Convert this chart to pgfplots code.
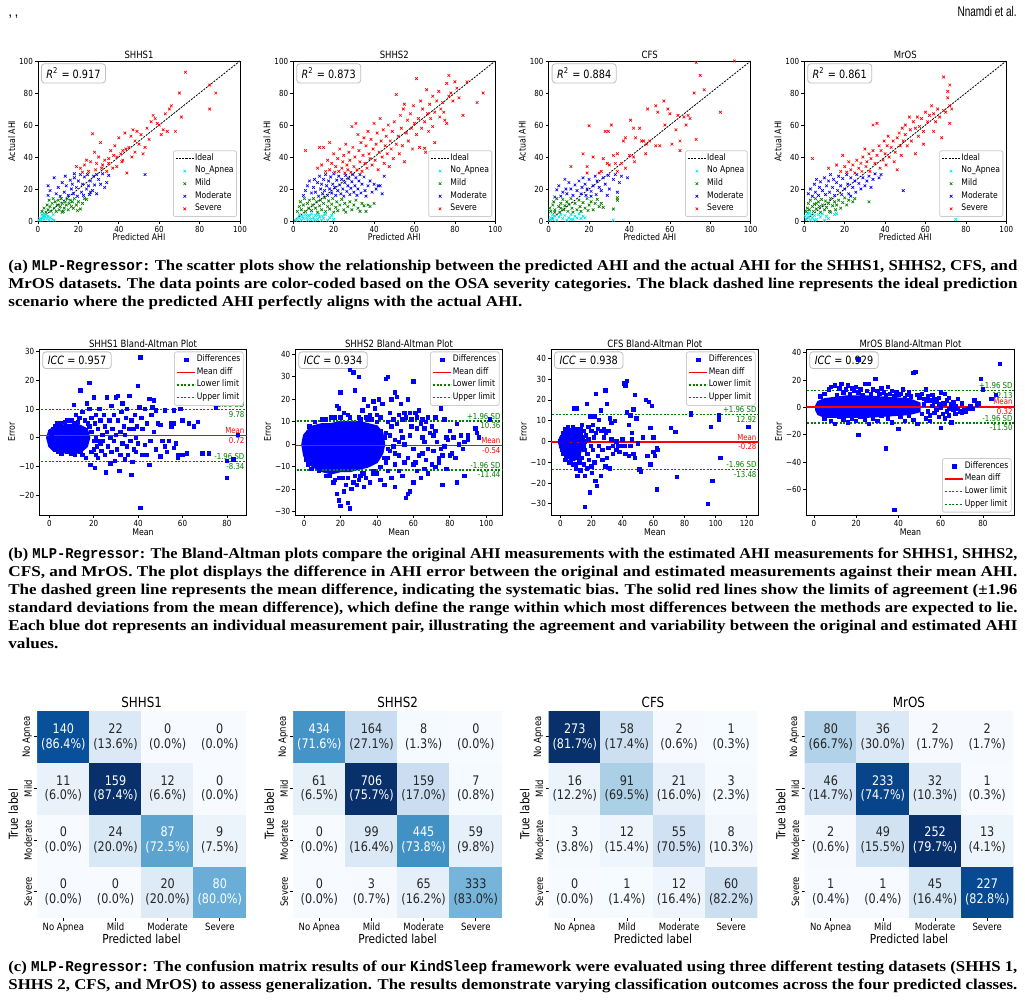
\documentclass[border=0pt]{standalone}
\usepackage{fontspec}
\usepackage{graphicx}
\usepackage{pgfplots}
\pgfplotsset{compat=1.18}
\setsansfont[FakeStretch=0.85]{DejaVu Sans}
\newfontfamily\capfont{Liberation Serif}
\newfontfamily\capmono[FakeStretch=0.85]{Liberation Mono}
\newfontfamily\hdrfont{Liberation Sans}
\definecolor{mcyan}{RGB}{0,235,235}
\definecolor{mgreen}{RGB}{0,128,0}
\definecolor{mblue}{RGB}{0,0,255}
\definecolor{mred}{RGB}{255,0,0}
\definecolor{dtext}{RGB}{38,38,38}
\pgfplotsset{
 colormap={blues}{rgb255=(247,251,255) rgb255=(222,235,247) rgb255=(198,219,239) rgb255=(158,202,225) rgb255=(107,174,214) rgb255=(66,146,198) rgb255=(33,113,181) rgb255=(8,81,156) rgb255=(8,48,107)},
 legend image code/.code={\draw[mark repeat=2,mark phase=2,#1] plot coordinates {(0pt,0pt)(4.5pt,0pt)(9pt,0pt)};},
 base/.style={scale only axis, enlargelimits=false, tick align=outside, tick pos=left, major tick length=1.6pt,
   axis line style={line width=0.45pt}, tick style={black, line width=0.35pt},
   /pgf/number format/assume math mode=true,
   ticklabel style={font=\sffamily\fontsize{4.2}{5}\selectfont, inner sep=0.8pt},
   label style={font=\sffamily\fontsize{4.6}{5.5}\selectfont, inner sep=1pt},
   every axis title/.style={at={(0.5,1)}, anchor=south, yshift=0pt, font=\sffamily\fontsize{5}{6}\selectfont, inner sep=1pt},
   legend cell align=left,
   legend style={font=\sffamily\fontsize{4.5}{5}\selectfont, draw=black!20, fill=white, rounded corners=1pt, inner sep=1pt, row sep=0.5pt, nodes={inner sep=0.45pt}}},
 sc/.style={base, width=101pt, height=80pt, xmin=0, xmax=100, ymin=0, ymax=100,
   xtick={0,20,40,60,80,100}, ytick={0,20,40,60,80,100}, xlabel={Predicted AHI}, ylabel={Actual AHI},
   xlabel style={yshift=1.5pt},
   legend style={at={(0.985,0.025)}, anchor=south east}},
 ba/.style={base, width=103.7pt, height=83pt, xlabel={Mean}, ylabel={Error}, xlabel style={yshift=1pt},
   title style={yshift=-0.7pt},
   legend style={at={(0.985,0.985)}, anchor=north east}},
 sx/.style={only marks, mark=x, mark size=0.95pt, line width=0.33pt},
 bx/.style={only marks, mark=square*, color=mblue, mark size=0.85pt},
 core/.style={fill=mblue, draw=mblue, line width=1pt, forget plot},
 mline/.style={color=mred, draw=mred, line width=0.75pt},
 gdash/.style={color=mgreen, draw=mgreen, line width=0.6pt, dash pattern=on 1pt off 0.8pt},
 cm/.style={scale only axis, width=104.3pt, height=103.35pt, enlargelimits=false,
   xmin=-0.5, xmax=3.5, ymin=-0.5, ymax=3.5, axis line style={draw=none},
   tick align=outside, tick pos=left, major tick length=1.5pt, tick style={black, line width=0.35pt},
   xtick={0,1,2,3}, ytick={0,1,2,3},
   xticklabels={No Apnea,Mild,Moderate,Severe}, yticklabels={Severe,Moderate,Mild,No Apnea},
   ticklabel style={font=\sffamily\fontsize{5}{6}\selectfont, inner sep=1pt},
   yticklabel style={rotate=90, anchor=south},
   xlabel={Predicted label}, ylabel={True label},
   xlabel style={yshift=1.5pt},
   label style={font=\sffamily\fontsize{6.2}{7}\selectfont, inner sep=1pt},
   every axis title/.style={at={(0.5,1)}, anchor=south, yshift=0.1pt, font=\sffamily\fontsize{7}{8}\selectfont, inner sep=1.2pt},
   colormap name=blues},
 cmt/.style={only marks, mark=none, point meta=explicit symbolic, nodes near coords, nodes near coords align={center},
   every node near coord/.append style={#1, align=center, font=\sffamily\fontsize{6.6}{7.4}\selectfont, inner sep=0pt}},
 cmap/.style={matrix plot*, mesh/cols=4, mesh/rows=4, point meta=explicit}
}
\tikzset{
 rbox/.style={draw=black!25, rounded corners=1.5pt, fill=white, anchor=north west, inner xsep=2.5pt, inner ysep=2pt, font=\sffamily\fontsize{5.7}{6.5}\selectfont},
 ann/.style={inner xsep=0.4pt, inner ysep=0.7pt, font=\sffamily\fontsize{4.1}{4.7}\selectfont}
}
\newcommand\mono[1]{{\capmono\bfseries #1}}
\newcommand\capl[3]{\node[anchor=base west, inner sep=0pt] at (4pt,-#1pt) {\resizebox{#2pt}{\height}{\capfont\bfseries\fontsize{7.5}{9}\selectfont #3}};}
\newcommand\idealimg{\addlegendimage{black, line width=0.4pt, dash pattern=on 1pt off 0.6pt}\addlegendentry{Ideal}}
\newcommand\idealline{\addplot[black, line width=0.4pt, dash pattern=on 1pt off 0.6pt, forget plot] coordinates {(0,0)(100,100)};}
\newcommand\balegend{\addlegendimage{only marks, mark=square*, color=mblue, mark size=0.85pt}\addlegendentry{Differences}
 \addlegendimage{color=mred, line width=0.75pt}\addlegendentry{Mean diff}
 \addlegendimage{color=mgreen, line width=0.6pt, dash pattern=on 1pt off 0.8pt}\addlegendentry{Lower limit}
 \addlegendimage{color=mgreen, line width=0.6pt, dash pattern=on 1pt off 0.8pt}\addlegendentry{Upper limit}}
\begin{document}
\begin{tikzpicture}
\useasboundingbox (0,0) rectangle (512.5pt,-502pt);
\fill[white] (0,0) rectangle (512.5pt,-502pt);
\node[anchor=base west, inner sep=0pt] at (4pt,-8.5pt) {\hdrfont\fontsize{7}{8}\selectfont ,\,,};
\node[anchor=base east, inner sep=0pt] at (508.5pt,-8.5pt) {\resizebox{29.5pt}{\height}{\hdrfont\fontsize{7}{8}\selectfont Nnamdi et al.}};

% ===================== SCATTER 1
\begin{axis}[sc, at={(19pt,-30.5pt)}, anchor=north west, title={SHHS1}]
\idealimg
\addplot[sx, mcyan] coordinates {(0.5,0.5) (1,1.5) (1.5,0.5) (2,2) (2.5,3) (3,1) (3.5,2.5) (4,4) (4.5,1.5) (5,3) (5.5,0.5) (6,2) (7,1) (7.5,4) (3,4.5) (8,0.5) (2,4)};
\addlegendentry{No\_Apnea}
\addplot[sx, mgreen] coordinates {(2,6) (3,8) (4,5.5) (4.5,10) (5,7) (5.5,13) (6,9) (6.5,6) (7,11) (7.5,14) (8,8) (8.5,12) (9,6) (9.5,10) (10,13) (10.5,7) (11,9) (11.5,14) (12,11) (12.5,6) (13,8) (13.5,12) (14,10) (14.5,14) (15,7) (15.5,11) (16,13) (16.5,9) (17,12) (17.5,8) (18,14) (19,10) (20,12) (21,7.5) (22,11) (23,14) (24,13.5) (19.5,6.5) (12,5.5)};
\addlegendentry{Mild}
\addplot[sx, mblue] coordinates {(5,16) (5,22) (6,19) (8,27) (9,17) (10,21) (11,15.5) (12,24) (13,18) (13.5,28) (14,22) (15,16) (16,25.5) (16.5,20) (17,23) (17.5,17) (18,27) (19,21) (19.5,15.5) (20,25) (21,29) (21.5,18) (22,23) (22.5,16) (23,27.5) (24,20) (24.5,29) (25,22) (25.5,16.5) (26,25) (27,19) (27.5,28) (28,22.5) (29,17) (30,26) (31,23) (32,29.5) (33,21) (34,24) (35,28.5) (53,29) (18,29.5) (26,18) (29,29)};
\addlegendentry{Moderate}
\addplot[sx, mred] coordinates {(19,34) (21,33) (23,35) (24,38) (25,31) (26,37) (27,54.5) (28,43) (28.5,32) (29,36) (30,40) (31,49) (31.5,33) (32,35) (33,38) (34,31) (35,36) (36,44) (37,33) (37.5,41) (38,47) (39,34) (40,52) (41,42) (41.5,37) (42,38) (43,55) (43.5,45) (44,30) (45,46) (46,53) (46.5,40) (47,57) (48,43) (49,56) (50,48) (51,54) (52,42) (53,46) (54,58) (55,51) (56,62) (57,66) (58,64) (59,61) (60,60) (61,54) (62,57) (63,67) (64,56) (65,70) (66,72) (68,56) (70,80) (71,65) (73,93) (85,85) (85,70) (88,80) (35,39) (39,40) (42,44) (48,50) (22,30.5)};
\addlegendentry{Severe}
\idealline
\node[rbox] at (rel axis cs:0.015,0.985) {\textit{R}\textsuperscript{2} = 0.917};
\end{axis}

% ===================== SCATTER 2
\begin{axis}[sc, at={(146.65pt,-30.5pt)}, anchor=north west, title={SHHS2}]
\idealimg
\addplot[sx, mcyan] coordinates {(1,0.5) (2,1) (3,2) (4,0.5) (4.5,3) (5,1.5) (6,4) (6.5,2) (7,0.5) (8,3) (8.5,1) (9,4.5) (10,2) (10.5,0.5) (11,3.5) (12,1) (12.5,4) (13,2.5) (14,0.5) (14.5,3) (15,1.5) (16,4) (17,0.5) (18,2) (19,3.5) (20,1) (3,4) (7.5,3.5) (15.5,4.5)};
\addlegendentry{No\_Apnea}
\addplot[sx, mgreen] coordinates {(2,6) (3,9) (3.5,12) (4,7) (5,10) (5.5,14) (6,6) (7,11) (7.5,8) (8,13) (9,6.5) (9.5,10) (10,14) (11,8) (11.5,12) (12,5.5) (13,9.5) (13.5,13) (14,7) (15,11) (15.5,14.5) (16,6) (17,9) (17.5,12.5) (18,7.5) (19,10.5) (19.5,14) (20,5.5) (21,8.5) (21.5,12) (22,6.5) (23,10) (24,13.5) (25,7) (25.5,11) (26,5.5) (27,9) (28,12) (29,7) (30,10) (31,13) (32,8) (33,6) (34,11) (35,9.5) (36,6) (37,10) (40,11) (38,9)};
\addlegendentry{Mild}
\addplot[sx, mblue] coordinates {(5,16) (6,19) (7,22) (8,25) (9,17.5) (10,21) (10.5,26) (11,18) (12,24) (12.5,15.5) (13,28) (13.5,20) (14,23) (14.5,17) (15,26) (15.5,19) (16,29) (16.5,22) (17,16) (17.5,25) (18,20) (18.5,27.5) (19,17.5) (19.5,23) (20,29.5) (20.5,21) (21,16) (21.5,25.5) (22,19) (22.5,28) (23,22.5) (23.5,17) (24,26) (24.5,20) (25,15.5) (25.5,24) (26,28.5) (26.5,18.5) (27,22) (27.5,26.5) (28,16.5) (28.5,20.5) (29,24.5) (29.5,29) (30,18) (30.5,22) (31,27) (31.5,16) (32,20) (32.5,25) (33,29) (33.5,17.5) (34,23) (35,27.5) (35.5,19) (36,15.5) (37,22) (38,25) (39,18) (40,23) (41,20) (42,22) (43,22) (45,28) (44,17)};
\addlegendentry{Moderate}
\addplot[sx, mred] coordinates {(6,44) (13,46) (15,46) (18,49) (12,33) (14,35) (16,31) (17,38) (18,32) (19,36) (20,42) (20.5,30.5) (21,34) (22,39) (22.5,31) (23,45) (24,33) (24.5,37) (25,41) (25.5,30) (26,48) (26.5,35) (27,32) (27.5,43) (28,38) (28.5,30.5) (29,59) (29.5,46) (30,34) (30.5,40) (31,61) (31.5,32) (32,54) (32.5,44) (33,37) (33.5,49) (34,31) (34.5,41) (35,52) (35.5,36) (36,47) (36.5,33) (37,56) (37.5,42) (38,39) (38.5,51) (39,35) (39.5,45) (40,61) (40.5,38) (41,48) (41.5,55) (42,32) (42.5,43) (43,64) (43.5,50) (44,40) (44.5,57) (45,36) (45.5,47) (46,53) (46.5,42) (47,60) (47.5,34) (48,50) (48.5,45) (49,56) (49.5,39) (50,62) (51,79) (51,48) (52,53) (52.5,42) (53,66) (53.5,58) (54,47) (54.5,70) (55,37) (55,73) (56,55) (56.5,63) (57,50) (58,67) (58.5,58) (59,45) (59.5,72) (60,61) (61,89) (61,54) (62,64) (62.5,46) (63,75) (63.5,58) (64,70) (65,62) (65.5,43) (65,45.5) (66,82) (66.5,67) (67,56) (67.5,73) (68,64) (69,78) (69,59) (70,49) (70,68) (71,75) (72,81) (72.5,65) (73,70) (74,74) (74.5,68) (75,63) (76,86) (76,61) (77,91) (77,78) (78,80) (79,75) (80,87) (81,83) (82,77) (84,66) (86,87) (91,74) (94,80)};
\addlegendentry{Severe}
\idealline
\node[rbox] at (rel axis cs:0.015,0.985) {\textit{R}\textsuperscript{2} = 0.873};
\end{axis}

% ===================== SCATTER 3
\begin{axis}[sc, at={(274.35pt,-30.5pt)}, anchor=north west, title={CFS}]
\idealimg
\addplot[sx, mcyan] coordinates {(0.5,0.5) (1,2) (2,1) (3,3) (4,0.5) (5,2.5) (6,4) (7,1.5) (8,3.5) (9,0.5) (10,2) (11,4) (12,1) (13,3) (14,2) (15,4.5) (16,1.5) (17,3) (18,2) (2,4) (32,0.5) (11,1)};
\addlegendentry{No Apnea}
\addplot[sx, mgreen] coordinates {(0.5,8) (1,6) (2,10) (2.5,12) (3,7) (4,14) (5,9) (5.5,5.5) (6,11) (7,13.5) (7.5,7) (8,9.5) (9,12) (9.5,6) (10,10.5) (11,14) (11.5,8) (12,5.5) (13,11) (14,7) (15,13) (15.5,9) (16,6) (17,11.5) (18,8) (19,14) (19.5,6.5) (20,10) (21,12) (22,7) (23,11) (24,13.5) (25,9) (26,11) (27,8.5) (32,7.5) (34,13) (34,14.5) (3,5.5) (6,8)};
\addlegendentry{Mild}
\addplot[sx, mblue] coordinates {(3,15) (4,19.5) (5,22) (6,15.5) (7,18) (8,26) (8.5,20) (9,17) (10,24) (11,20) (12,16) (13,22.5) (14,19) (15,25) (16,17) (16.5,21) (17,27) (18,23) (18.5,16) (19,20) (20,26) (21,18.5) (22,22) (23,28) (23.5,16.5) (24,25) (25,21) (26,19) (27,27) (28,23) (29,16) (29.5,28.5) (30,20) (32,26) (33,29) (34,18) (35,24) (36,28) (39,27) (21,15.5)};
\addlegendentry{Moderate}
\addplot[sx, mred] coordinates {(11,34) (17,42) (19,34) (20,59.5) (19,30) (22,40) (25,30) (26,31) (27,39) (28,56) (29,36) (29.5,56) (30,35) (31,60) (32,41) (33,36) (34,31) (34,42) (36,36) (37,50) (38,52) (38,33) (40,41) (40.5,63) (42,58) (42.5,37) (42,40) (43,52) (45,58) (46,50) (47,50) (48,42) (48.5,48) (49,70) (50,50) (53,47) (53,72) (54,68) (55,47) (57,75) (57.5,60) (59,70) (60,67) (61,48) (63,57) (64,66) (65,50) (65,44) (67,65) (68,60) (69,66) (70,64) (72,80) (73,51) (73,99) (75,91) (77,82) (85,68) (92,100)};
\addlegendentry{Severe}
\idealline
\node[rbox] at (rel axis cs:0.015,0.985) {\textit{R}\textsuperscript{2} = 0.884};
\end{axis}

% ===================== SCATTER 4
\begin{axis}[sc, at={(402.15pt,-30.5pt)}, anchor=north west, title={MrOS}]
\idealimg
\addplot[sx, mcyan] coordinates {(0.5,3) (1,1) (1.5,4.5) (2,2.5) (3,0.5) (3.5,4) (4,2) (5,3.5) (6,1) (7,4) (8,2.5) (9,4.5) (10,0.5) (11,3) (12,1.5) (15,4) (16,4.5) (75,1) (5,0.5) (2.5,5)};
\addlegendentry{No\_Apnea}
\addplot[sx, mgreen] coordinates {(1,6) (1.5,8) (2,11) (2.5,7) (3,13) (4,9) (4.5,6) (5,10.5) (5.5,14) (6,7.5) (7,12) (7.5,9) (8,5.5) (8.5,13.5) (9,10) (10,7) (10.5,12.5) (11,8.5) (12,11) (12.5,6) (13,14) (14,9.5) (15,12) (15.5,7) (16,10) (17,13) (18,8) (19,11.5) (20,14.5) (21,10) (22,13) (24,12) (25,14) (32,12) (13,5.5) (6,11)};
\addlegendentry{Mild}
\addplot[sx, mblue] coordinates {(2,17) (3,20) (4,15.5) (5,23) (5.5,18) (6,26) (7,16) (7.5,21) (8,24.5) (9,19) (10,27) (10.5,16.5) (11,22) (12,25) (12.5,18) (13,29) (14,21) (14.5,26) (15,16) (16,24) (16.5,19) (17,28) (18,22) (18.5,16.5) (19,26.5) (20,20) (21,29) (21.5,23) (22,17) (23,27) (24,21) (25,25) (25.5,18) (26,29) (27,23.5) (28,20) (29,27) (30,22) (31,25) (32,28) (33,21) (34,26) (35,29.5) (37,27) (38,29) (49,19) (23,15.5)};
\addlegendentry{Moderate}
\addplot[sx, mred] coordinates {(4,39) (12,33) (19,41) (16,35) (18,31) (20,34) (21,30.5) (22,37) (23,32) (24,35) (25,30) (26,38) (27,33) (28,36) (28.5,31) (29,40) (30,45) (30.5,34) (31,37) (32,42) (32.5,31) (33,39) (34,60) (34,44) (35,36) (36,61) (36,41) (37,47) (37.5,33) (38,44) (39,38) (39.5,50) (40,42) (40.5,35) (41,47) (41.5,53) (42,40) (43,46) (44,50) (44.5,37) (45,43) (46,32) (46,52) (47,55) (47.5,47) (48,41) (48.5,58) (49,50) (50,60) (50,54) (51,47) (52,65) (52.5,57) (53,50) (54,62) (55,42) (55,58) (56,65) (56.5,53) (57,59) (58,64) (59,48) (59,56) (60,68) (61,62) (62,66) (63,72) (64,56) (64,67) (65,62) (66,70) (67,65) (68,52) (69,90) (69,69) (70,68) (71,81) (71,77) (72,85) (72,61) (72,72) (73,70)};
\addlegendentry{Severe}
\idealline
\node[rbox] at (rel axis cs:0.015,0.985) {\textit{R}\textsuperscript{2} = 0.861};
\end{axis}

% ===================== BA 1
\begin{axis}[ba, at={(19.65pt,-174.5pt)}, anchor=north west, title={SHHS1 Bland-Altman Plot},
  xmin=-4.5, xmax=88.9, ymin=-26.9, ymax=30.9, xtick={0,20,40,60,80}, ytick={-20,-10,0,10,20,30}, yticklabels={−20,−10,0,10,20,30}]
\balegend
\addplot[core] coordinates {(-1,0) (0,-3) (2,-4.5) (6,-5) (10,-5.5) (14,-5) (17,-3) (18,0) (17,3) (13,4.5) (8,4.5) (3,4) (0,2.5)} -- cycle;
\addplot[bx, forget plot] coordinates {(0,0) (0.5,-2) (0.5,2) (1,1) (1.5,3) (1.5,-3) (2.5,4) (2.5,-4) (3.5,5) (4,-5) (5,5) (5.5,-5.5) (7,5.5) (8,-5) (8,6) (10,6) (10,-5.5) (11,11.5) (11,5) (11.5,-6) (12,8) (13,5.5) (13.5,7) (14,-5) (14,16.5) (15,-6) (15,9) (16,6) (16.5,-7) (17,12) (17.5,5) (18,19) (18,10) (18.5,-9.5) (19,7) (19,-5) (20,-1) (20,14) (20.5,5) (20.5,-10.5) (21,0) (21,8) (21.5,-3) (22,3) (22,-7) (22.5,10) (23,-2) (23,6) (23.5,-4.5) (24,1) (24,-1) (24.5,8) (25,4) (25,-6) (25.5,-12) (26,2) (26,14) (26.5,-3) (27,6) (27.5,0) (27.5,-9) (28,11) (28,-5) (28.5,3) (29,-1) (29,8) (29.5,-8) (30,14) (30,1) (30.5,-4) (31,14.5) (31,6) (31.5,-11.5) (32,2) (32,-6) (32.5,9) (33,-2) (33,12) (33.5,4) (34,-7.5) (34,1) (34.5,7) (35,-3) (35,10) (35.5,-6) (36,14.5) (36,3) (36.5,-1) (37,-13) (37,6) (37.5,-8.5) (38,3) (38,-4) (38.5,8) (39,0) (39,-5) (39.5,4) (40,18) (40,-2) (40.5,10.5) (41,28) (41,-24.5) (41.5,7) (42,-6) (42,3) (43,10) (43,-2.5) (44,5) (44,-6) (45,13.5) (45,-9.5) (45.5,-1) (46,8) (46.5,10.5) (47,13) (47,2) (48,-4) (48,9.5) (49,5) (50,4.5) (50,-6.5) (51,-1) (52,9.5) (52,-3) (53,-5) (54,-1) (55,4) (56,9.5) (56,5) (57,-2) (58,-6) (58,-7) (59,10) (60,6) (62,-5.5) (63,5) (65,4) (67,5.5) (69,-5.5) (72,-5.5) (75,10.5) (80,-14) (80,-8) (83,-7.5) (85,1) (55,5) (56,-3.5) (60,-6) (19,2) (20,-4) (18,4) (21,-6) (22,-1)};
\addplot[mline, forget plot] coordinates {(-10,0.72)(200,0.72)};
\addplot[gdash, forget plot] coordinates {(-10,-8.34)(200,-8.34)};
\addplot[gdash, forget plot] coordinates {(-10,9.78)(200,9.78)};
\node[ann, mgreen, anchor=south east] at (axis cs:88.4,9.78) {+1.96 SD};
\node[ann, mgreen, anchor=north east] at (axis cs:88.4,9.78) {9.78};
\node[ann, mred, anchor=south east] at (axis cs:88.4,0.72) {Mean};
\node[ann, mred, anchor=north east] at (axis cs:88.4,0.72) {0.72};
\node[ann, mgreen, anchor=south east] at (axis cs:88.4,-8.34) {-1.96 SD};
\node[ann, mgreen, anchor=north east] at (axis cs:88.4,-8.34) {-8.34};
\node[rbox] at (rel axis cs:0.015,0.985) {\textit{ICC} = 0.957};
\end{axis}

% ===================== BA 2
\begin{axis}[ba, at={(147.65pt,-174.5pt)}, anchor=north west, title={SHHS2 Bland-Altman Plot},
  xmin=-4.8, xmax=109, ymin=-31.5, ymax=42.4, xtick={0,20,40,60,80,100}, ytick={-30,-20,-10,0,10,20,30,40}, yticklabels={−30,−20,−10,0,10,20,30,40}]
\balegend
\addplot[core] coordinates {(-1,0) (0,-5) (2,-8) (5,-10) (10,-12) (15,-13) (20,-12) (25,-12) (30,-11) (35,-10) (40,-8) (43,-4) (44,0) (43,5) (40,8) (35,9) (30,10) (25,10) (20,10) (15,9) (10,9) (5,8) (2,6) (0,4)} -- cycle;
\addplot[bx, forget plot] coordinates {(18,17) (19,16) (20,23) (17,12) (22,14) (24,13) (25,33) (27,32) (28,24) (30,30) (31,11) (32,15) (33,20) (34,12) (35,17) (36,13) (37,11) (38,19) (39,16) (40,13) (41,20) (42,12) (43,18) (45,29) (46,30) (47,14) (48,20) (49,11) (50,23) (51,21) (52,13) (53,18) (54,11) (55,14) (56,12) (57,20) (58,14) (59,11) (60,28) (61,14) (62,12) (63,15) (64,9) (65,11) (66,7) (67,10) (68,12) (70,8) (71,4) (72,12) (75,16) (77,11) (78,3) (80,6) (82,3) (84,9) (86,4) (88,1) (102,11) (95,5) (94,7) (96,3)
(14,-14) (16,-17) (17,-16) (18,-22) (19,-25) (20,-27.5) (21,-15) (22,-21) (23,-18) (24,-26) (25,-28.5) (26,-20) (27,-17) (28,-14) (29,-18) (30,-16) (31,-14) (32,-13) (33,-19) (34,-15) (36,-17) (38,-12) (40,-13) (42,-16) (44,-18) (46,-12) (48,-15) (50,-19) (52,-12) (54,-14) (56,-24) (57,-22) (58,-21) (60,-17) (62,-12) (64,-15) (66,-11) (68,-13) (70,-9) (72,-10) (74,-6) (76,-18) (78,-11) (80,-5) (84,-17) (88,-14) (60,-9) (65,-4) (75,-2) (85,0) (90,2) (55,-8) (50,-9) (45,-8)
(45,5) (47,-3) (48,8) (50,2) (52,-5) (53,6) (55,0) (57,-6) (58,4) (60,-2) (62,7) (63,-5) (65,3) (67,-7) (69,5) (71,-3) (73,1) (76,-5) (79,2) (83,-6) (87,-2) (90,4) (46,10) (49,-1) (51,9) (54,3) (59,8) (61,-8) (66,1) (68,-2) (72,6) (74,-8) (77,-1) (81,-4)
(12,11) (15,12) (20,12) (25,12) (30,12) (35,11) (40,10) (42,6) (44,3) (46,-2) (44,-6) (42,-10) (38,-13) (33,-13) (28,-14) (24,-15) (19,-15) (12,-14) (8,-12) (4,-11) (2,-9) (6,10) (10,11) (3,8) (1,-7) (47,4) (46,-6) (50,-4) (52,1)};
\addplot[mline, forget plot] coordinates {(-10,-0.54)(200,-0.54)};
\addplot[gdash, forget plot] coordinates {(-10,-11.44)(200,-11.44)};
\addplot[gdash, forget plot] coordinates {(-10,10.36)(200,10.36)};
\node[ann, mgreen, anchor=south east] at (axis cs:108.4,10.36) {+1.96 SD};
\node[ann, mgreen, anchor=north east] at (axis cs:108.4,10.36) {10.36};
\node[ann, mred, anchor=south east] at (axis cs:108.4,-0.54) {Mean};
\node[ann, mred, anchor=north east] at (axis cs:108.4,-0.54) {-0.54};
\node[ann, mgreen, anchor=south east] at (axis cs:108.4,-11.44) {-1.96 SD};
\node[ann, mgreen, anchor=north east] at (axis cs:108.4,-11.44) {-11.44};
\node[rbox] at (rel axis cs:0.015,0.985) {\textit{ICC} = 0.934};
\end{axis}

% ===================== BA 3
\begin{axis}[ba, width=103.85pt, at={(275.5pt,-174.5pt)}, anchor=north west, title={CFS Bland-Altman Plot},
  xmin=-6, xmax=127.7, ymin=-35.4, ymax=44.5, xtick={0,20,40,60,80,100,120}, ytick={-30,-20,-10,0,10,20,30,40}, yticklabels={−30,−20,−10,0,10,20,30,40}]
\balegend
\addplot[core] coordinates {(-1,0) (0,-3) (2,-6) (5,-8) (9,-9) (12,-7) (14,-3) (14,2) (11,5) (6,6) (2,4) (0,2)} -- cycle;
\addplot[bx, forget plot] coordinates {(0,0) (0.5,-2) (1,2) (1,-4) (1.5,-1) (2,4) (2,-6) (2.5,1) (3,-3) (3,6) (3.5,-8) (4,2) (4,-1) (4.5,-5) (5,7) (5,0) (5.5,-10) (6,3) (6,-3) (6.5,-7) (7,1) (7,5) (7.5,-2) (8,-11) (8,7) (8.5,-5) (9,0) (9,16) (9.5,-8) (10,3) (10,-13) (10.5,16) (11,-3) (11,-16.5) (11.5,6) (12,-6) (12,1) (12.5,-10) (13,4) (13,-14) (13.5,-1) (14,-8) (14,8) (14.5,2) (15,-11) (15,5) (15.5,-4) (16,-16.5) (16,-31.5) (16.5,3) (17,18) (17,-13) (17.5,-6) (18,7) (18,1) (18.5,-9) (19,12) (19,-24.5) (19.5,-2) (20,5) (20,-12) (20.5,-15) (21,8) (21,-4) (21.5,2) (22,-10) (22,12) (22.5,-19) (23,23) (23,4) (23.5,-21.5) (24,-7) (24,6) (25,10.5) (25,-2) (26,-16.5) (26,15) (26.5,5) (27,-9) (27,-4) (28,2) (28,6) (29,24.5) (29,-12) (29.5,4) (30,18) (30,-8) (31,5) (31,-3) (32,11) (32,-13) (33,1) (33,9) (34,-2) (34,-6) (35,10) (36,0) (36,-4) (37,-2) (38,-5) (39,-2) (40,1) (41,28) (42,27) (43,29) (41.5,-2) (42,-6) (43,14) (44,8) (44,-7) (45,12.5) (45,-2) (46,4) (46,1) (47,15.5) (47,-6) (48,-8) (48,22.5) (49,11) (50,-1) (51,-13.5) (52,-14.5) (53,2) (55,20) (56,-7) (57,19) (58,6.5) (58,-11) (59,17) (60,2) (60,-5) (61,-7) (62,-3) (63,-4) (71,6.5) (75,-17) (74,4.5) (84,13.5) (84,13) (95,-30) (97,7) (98,-19) (102,12.5) (102,10.5) (103,-8) (121,7) (62,-23) (3,-9) (6,-10) (10,-11) (7,-9) (12,-9) (15,-2) (16,0) (9,6) (5,4) (13,6) (11,-8)};
\addplot[mline, forget plot] coordinates {(-10,-0.28)(200,-0.28)};
\addplot[gdash, forget plot] coordinates {(-10,-13.48)(200,-13.48)};
\addplot[gdash, forget plot] coordinates {(-10,12.92)(200,12.92)};
\node[ann, mgreen, anchor=south east] at (axis cs:127.0,12.92) {+1.96 SD};
\node[ann, mgreen, anchor=north east] at (axis cs:127.0,12.92) {12.92};
\node[ann, mred, anchor=south east] at (axis cs:127.0,-0.28) {Mean};
\node[ann, mred, anchor=north east] at (axis cs:127.0,-0.28) {-0.28};
\node[ann, mgreen, anchor=south east] at (axis cs:127.0,-13.48) {-1.96 SD};
\node[ann, mgreen, anchor=north east] at (axis cs:127.0,-13.48) {-13.48};
\node[rbox] at (rel axis cs:0.015,0.985) {\textit{ICC} = 0.938};
\end{axis}

% ===================== BA 4
\begin{axis}[ba, width=104.2pt, at={(403.15pt,-174.5pt)}, anchor=north west, title={MrOS Bland-Altman Plot},
  legend style={at={(0.985,0.015)}, anchor=south east},
  xmin=-3.6, xmax=95, ymin=-78.8, ymax=42.7, xtick={0,20,40,60,80}, ytick={-60,-40,-20,0,20,40}, yticklabels={−60,−40,−20,0,20,40}]
\balegend
\addplot[core] coordinates {(1,-2) (2,-5) (5,-7) (15,-7) (25,-7) (35,-6) (45,-5) (50,-3) (50,3) (45,6) (35,7) (25,8) (15,8) (5,6) (2,4) (1,1)} -- cycle;
\addplot[bx, forget plot] coordinates {(3,8) (5,10) (7,13) (8,15) (10,16) (11,9) (12,14) (13,17) (14,11) (15,13) (16,16) (17,10) (18,14) (19,12) (20,15) (21,11) (22,13) (23,9) (24,17) (25,12) (26,17) (27,10) (28,13) (29,21) (30,12) (31,10) (32,14) (33,11) (34,9) (35,15) (36,10) (37,12) (38,8) (39,11) (40,9) (41,10) (42,13) (43,7) (44,9) (45,11) (46,8) (47,25) (48,26) (49,9) (50,7) (51,10) (52,6) (53,13) (54,8) (55,5) (56,9) (57,6) (58,4) (59,7) (60,11) (61,3) (62,10) (63,5) (64,7) (65,2) (66,4) (67,1) (68,6) (70,3) (72,-3) (74,1) (76,5) (78,3) (80,13) (79,21) (84,6) (86,9) (88,32) (73,-1) (21,35)
(5,-8) (8,-10) (10,-12) (12,-7) (14,-9) (16,-11) (18,-8) (20,-10) (21,-20) (22,-7) (24,-9) (26,-12) (28,-8) (30,-10) (32,-6) (34,-30) (35,-8) (37,-11) (38,-75) (40,-16) (41,-7) (43,-10) (45,-6) (47,-9) (49,-12) (51,-5) (53,-8) (55,-10) (57,-4) (59,-7) (60,-15) (61,-5) (62,-8) (63,-3) (64,-6) (65,-11) (66,-2) (67,-5) (68,-1) (70,-4) (71,-2)
(52,2) (54,-3) (56,1) (58,-2) (60,0) (62,3) (64,-1) (57,4) (53,5) (55,-6) (59,2) (66,1) (69,-3) (75,-1) (77,2)};
\addplot[mline, forget plot] coordinates {(-10,0.32)(200,0.32)};
\addplot[gdash, forget plot] coordinates {(-10,-11.50)(200,-11.50)};
\addplot[gdash, forget plot] coordinates {(-10,12.13)(200,12.13)};
\node[ann, mgreen, anchor=south east] at (axis cs:94.5,12.13) {+1.96 SD};
\node[ann, mgreen, anchor=north east] at (axis cs:94.5,12.13) {12.13};
\node[ann, mred, anchor=south east] at (axis cs:94.5,0.32) {Mean};
\node[ann, mred, anchor=north east] at (axis cs:94.5,0.32) {0.32};
\node[ann, mgreen, anchor=south east] at (axis cs:94.5,-11.50) {-1.96 SD};
\node[ann, mgreen, anchor=north east] at (axis cs:94.5,-11.50) {-11.50};
\node[rbox] at (rel axis cs:0.015,0.985) {\textit{ICC} = 0.929};
\end{axis}

% ===================== CM 1
\begin{axis}[cm, at={(18.65pt,-355.5pt)}, anchor=north west, title={SHHS1}, point meta min=0, point meta max=159]
\addplot[cmap] coordinates {(0,0)[0] (1,0)[0] (2,0)[20] (3,0)[80] (0,1)[0] (1,1)[24] (2,1)[87] (3,1)[9] (0,2)[11] (1,2)[159] (2,2)[12] (3,2)[0] (0,3)[140] (1,3)[22] (2,3)[0] (3,3)[0]};
\addplot[cmt=white] coordinates {(0,3)[140\\(86.4\%)] (1,2)[159\\(87.4\%)] (2,1)[87\\(72.5\%)] (3,0)[80\\(80.0\%)]};
\addplot[cmt=dtext] coordinates {(1,3)[22\\(13.6\%)] (2,3)[0\\(0.0\%)] (3,3)[0\\(0.0\%)] (0,2)[11\\(6.0\%)] (2,2)[12\\(6.6\%)] (3,2)[0\\(0.0\%)] (0,1)[0\\(0.0\%)] (1,1)[24\\(20.0\%)] (3,1)[9\\(7.5\%)] (0,0)[0\\(0.0\%)] (1,0)[0\\(0.0\%)] (2,0)[20\\(20.0\%)]};
\end{axis}

% ===================== CM 2
\begin{axis}[cm, at={(146.65pt,-355.5pt)}, anchor=north west, title={SHHS2}, point meta min=0, point meta max=706]
\addplot[cmap] coordinates {(0,0)[0] (1,0)[3] (2,0)[65] (3,0)[333] (0,1)[0] (1,1)[99] (2,1)[445] (3,1)[59] (0,2)[61] (1,2)[706] (2,2)[159] (3,2)[7] (0,3)[434] (1,3)[164] (2,3)[8] (3,3)[0]};
\addplot[cmt=white] coordinates {(0,3)[434\\(71.6\%)] (1,2)[706\\(75.7\%)] (2,1)[445\\(73.8\%)]};
\addplot[cmt=dtext] coordinates {(1,3)[164\\(27.1\%)] (2,3)[8\\(1.3\%)] (3,3)[0\\(0.0\%)] (0,2)[61\\(6.5\%)] (2,2)[159\\(17.0\%)] (3,2)[7\\(0.8\%)] (0,1)[0\\(0.0\%)] (1,1)[99\\(16.4\%)] (3,1)[59\\(9.8\%)] (0,0)[0\\(0.0\%)] (1,0)[3\\(0.7\%)] (2,0)[65\\(16.2\%)] (3,0)[333\\(83.0\%)]};
\end{axis}

% ===================== CM 3
\begin{axis}[cm, at={(274.35pt,-355.5pt)}, anchor=north west, title={CFS}, point meta min=0, point meta max=273]
\addplot[cmap] coordinates {(0,0)[0] (1,0)[1] (2,0)[12] (3,0)[60] (0,1)[3] (1,1)[12] (2,1)[55] (3,1)[8] (0,2)[16] (1,2)[91] (2,2)[21] (3,2)[3] (0,3)[273] (1,3)[58] (2,3)[2] (3,3)[1]};
\addplot[cmt=white] coordinates {(0,3)[273\\(81.7\%)]};
\addplot[cmt=dtext] coordinates {(1,3)[58\\(17.4\%)] (2,3)[2\\(0.6\%)] (3,3)[1\\(0.3\%)] (0,2)[16\\(12.2\%)] (1,2)[91\\(69.5\%)] (2,2)[21\\(16.0\%)] (3,2)[3\\(2.3\%)] (0,1)[3\\(3.8\%)] (1,1)[12\\(15.4\%)] (2,1)[55\\(70.5\%)] (3,1)[8\\(10.3\%)] (0,0)[0\\(0.0\%)] (1,0)[1\\(1.4\%)] (2,0)[12\\(16.4\%)] (3,0)[60\\(82.2\%)]};
\end{axis}

% ===================== CM 4
\begin{axis}[cm, at={(402.35pt,-355.5pt)}, anchor=north west, title={MrOS}, point meta min=1, point meta max=252]
\addplot[cmap] coordinates {(0,0)[1] (1,0)[1] (2,0)[45] (3,0)[227] (0,1)[2] (1,1)[49] (2,1)[252] (3,1)[13] (0,2)[46] (1,2)[233] (2,2)[32] (3,2)[1] (0,3)[80] (1,3)[36] (2,3)[2] (3,3)[2]};
\addplot[cmt=white] coordinates {(1,2)[233\\(74.7\%)] (2,1)[252\\(79.7\%)] (3,0)[227\\(82.8\%)]};
\addplot[cmt=dtext] coordinates {(0,3)[80\\(66.7\%)] (1,3)[36\\(30.0\%)] (2,3)[2\\(1.7\%)] (3,3)[2\\(1.7\%)] (0,2)[46\\(14.7\%)] (2,2)[32\\(10.3\%)] (3,2)[1\\(0.3\%)] (0,1)[2\\(0.6\%)] (1,1)[49\\(15.5\%)] (3,1)[13\\(4.1\%)] (0,0)[1\\(0.4\%)] (1,0)[1\\(0.4\%)] (2,0)[45\\(16.4\%)]};
\end{axis}

% ===================== CAPTIONS
\capl{135.5}{504.5}{(a) \mono{MLP-Regressor}: The scatter plots show the relationship between the predicted AHI and the actual AHI for the SHHS1, SHHS2, CFS, and}
\capl{144.5}{504.5}{MrOS datasets. The data points are color-coded based on the OSA severity categories. The black dashed line represents the ideal prediction}
\capl{153.5}{257}{scenario where the predicted AHI perfectly aligns with the actual AHI.}
\capl{279.5}{504.5}{(b) \mono{MLP-Regressor}: The Bland-Altman plots compare the original AHI measurements with the estimated AHI measurements for SHHS1, SHHS2,}
\capl{288.5}{504.5}{CFS, and MrOS. The plot displays the difference in AHI error between the original and estimated measurements against their mean AHI.}
\capl{297.5}{504.5}{The dashed green line represents the mean difference, indicating the systematic bias. The solid red lines show the limits of agreement (±1.96}
\capl{306.5}{504.5}{standard deviations from the mean difference), which define the range within which most differences between the methods are expected to lie.}
\capl{315.5}{504.5}{Each blue dot represents an individual measurement pair, illustrating the agreement and variability between the original and estimated AHI}
\capl{324.5}{25}{values.}
\capl{486}{504.5}{(c) \mono{MLP-Regressor}: The confusion matrix results of our \mono{KindSleep} framework were evaluated using three different testing datasets (SHHS 1,}
\capl{495}{504.5}{SHHS 2, CFS, and MrOS) to assess generalization. The results demonstrate varying classification outcomes across the four predicted classes.}
\end{tikzpicture}
\end{document}
